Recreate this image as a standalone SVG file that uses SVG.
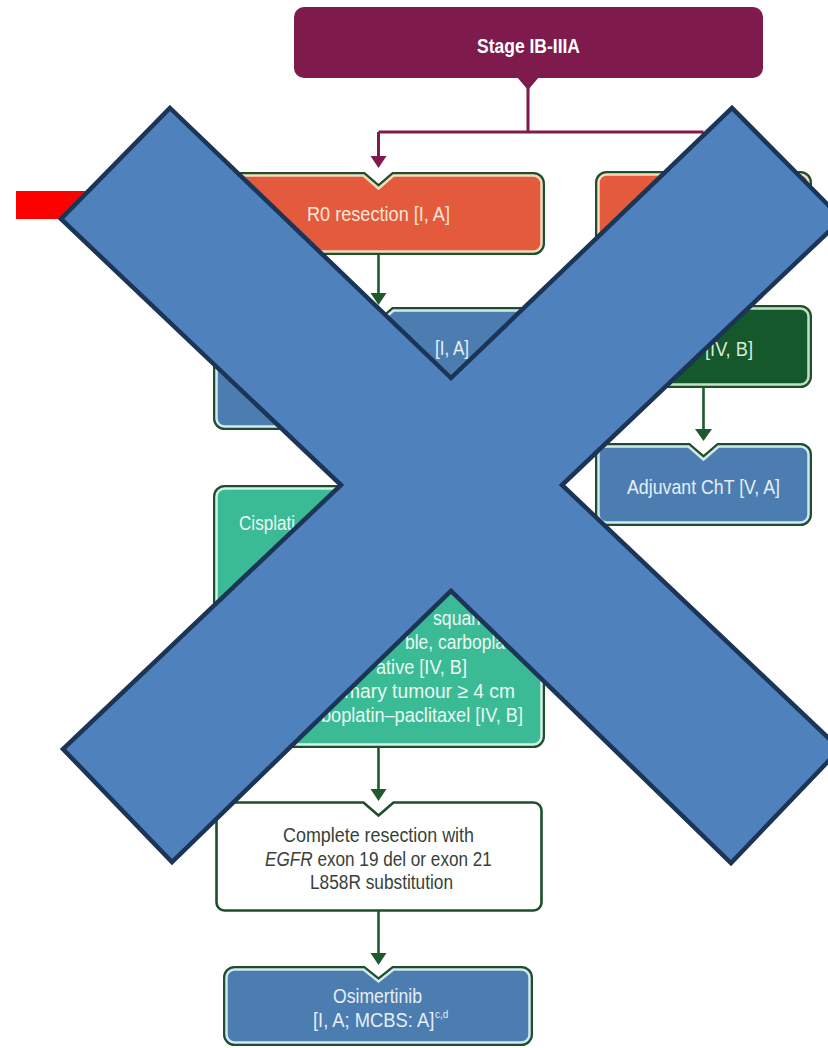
<svg xmlns="http://www.w3.org/2000/svg" width="828" height="1048" viewBox="0 0 828 1048">
<defs>
<style>
.t{font-family:"Liberation Sans Narrow","Liberation Sans",Arial,sans-serif;font-size:20.5px}
.b{font-weight:bold}
.edge{fill:none;stroke:#1E4F2C;stroke-width:7;stroke-linejoin:miter}
.orange{fill:#E35A3D;stroke:#F6DCBD;stroke-width:2.5}
.blue{fill:#4C7DB1;stroke:#D3E8F0;stroke-width:2.5}
.dgreen{fill:#15582B;stroke:#C2E2C6;stroke-width:2.5}
.teal{fill:#3ABB95;stroke:#D6F2E7;stroke-width:2.5}
.white{fill:#FFFFFF;stroke:#1E4F2C;stroke-width:2.6}
.tw{fill:#FFFFFF}
.to{fill:#FCE7D8}
.tb{fill:#E6EEF6}
.tg{fill:#D8ECDA}
.tt{fill:#ECF8F3}
.td{fill:#36423A}
.cm{fill:none;stroke:#7E1A4C;stroke-width:3}
.am{fill:#7E1A4C}
.cg{fill:none;stroke:#1E5A2E;stroke-width:2.6}
.ag{fill:#1E5A2E}
</style>
</defs>
<rect width="828" height="1048" fill="#FFFFFF"/>

<g id="connectors">
  <path class="cm" d="M528,86 V132 M378.5,132 H703.5 M378.5,132 V158 M703.5,132 V161"/>
  <polygon class="am" points="370.5,156 386.5,156 378.5,168"/>
  <polygon class="am" points="695.5,159 711.5,159 703.5,171"/>
  <path class="cg" d="M378.5,252 V295 M378.5,427 V475 M378.5,745 V791 M378.5,911 V955 M703.5,250 V295 M703.5,385 V431"/>
  <polygon class="ag" points="370.5,293 386.5,293 378.5,305"/>
  <polygon class="ag" points="370.5,473 386.5,473 378.5,485"/>
  <polygon class="ag" points="370.5,789 386.5,789 378.5,801"/>
  <polygon class="ag" points="370.5,953 386.5,953 378.5,965"/>
  <polygon class="ag" points="695.5,293 711.5,293 703.5,305"/>
  <polygon class="ag" points="695,429 712,429 703.5,441"/>
</g>

<g id="n-stage">
  <rect x="294" y="7" width="469" height="71" rx="10" fill="#7E1A4C"/>
  <polygon points="517,77 539,77 528,90" fill="#7E1A4C"/>
  <text class="t b tw" x="477" y="53" font-size="20" textLength="103" lengthAdjust="spacingAndGlyphs">Stage IB-IIIA</text>
</g>

<g id="n-r0">
  <path class="edge" d="M224.5,175.5 H363.5 L378.5,188.5 L393.5,175.5 H533.5 A8,8 0 0 1 541.5,183.5 V243.5 A8,8 0 0 1 533.5,251.5 H224.5 A8,8 0 0 1 216.5,243.5 V183.5 A8,8 0 0 1 224.5,175.5 Z"/>
  <path class="orange" d="M224.5,175.5 H363.5 L378.5,188.5 L393.5,175.5 H533.5 A8,8 0 0 1 541.5,183.5 V243.5 A8,8 0 0 1 533.5,251.5 H224.5 A8,8 0 0 1 216.5,243.5 V183.5 A8,8 0 0 1 224.5,175.5 Z"/>
  <text class="t to" x="307" y="221" textLength="143" lengthAdjust="spacingAndGlyphs">R0 resection [I, A]</text>
</g>

<g id="n-r1">
  <path class="edge" d="M606.5,174.5 H688.5 L703.5,187.5 L718.5,174.5 H800.5 A8,8 0 0 1 808.5,182.5 V241.5 A8,8 0 0 1 800.5,249.5 H606.5 A8,8 0 0 1 598.5,241.5 V182.5 A8,8 0 0 1 606.5,174.5 Z"/>
  <path class="orange" d="M606.5,174.5 H688.5 L703.5,187.5 L718.5,174.5 H800.5 A8,8 0 0 1 808.5,182.5 V241.5 A8,8 0 0 1 800.5,249.5 H606.5 A8,8 0 0 1 598.5,241.5 V182.5 A8,8 0 0 1 606.5,174.5 Z"/>
</g>

<g id="n-adjuvant-left">
  <path class="edge" d="M224.5,310.5 H363.5 L378.5,323.5 L393.5,310.5 H533.5 A8,8 0 0 1 541.5,318.5 V418.5 A8,8 0 0 1 533.5,426.5 H224.5 A8,8 0 0 1 216.5,418.5 V318.5 A8,8 0 0 1 224.5,310.5 Z"/>
  <path class="blue" d="M224.5,310.5 H363.5 L378.5,323.5 L393.5,310.5 H533.5 A8,8 0 0 1 541.5,318.5 V418.5 A8,8 0 0 1 533.5,426.5 H224.5 A8,8 0 0 1 216.5,418.5 V318.5 A8,8 0 0 1 224.5,310.5 Z"/>
  <text class="t tb" x="435" y="355" textLength="34" lengthAdjust="spacingAndGlyphs">[I, A]</text>
</g>

<g id="n-rt">
  <path class="edge" d="M606.5,308.5 H688.5 L703.5,321.5 L718.5,308.5 H800.5 A8,8 0 0 1 808.5,316.5 V376.5 A8,8 0 0 1 800.5,384.5 H606.5 A8,8 0 0 1 598.5,376.5 V316.5 A8,8 0 0 1 606.5,308.5 Z"/>
  <path class="dgreen" d="M606.5,308.5 H688.5 L703.5,321.5 L718.5,308.5 H800.5 A8,8 0 0 1 808.5,316.5 V376.5 A8,8 0 0 1 800.5,384.5 H606.5 A8,8 0 0 1 598.5,376.5 V316.5 A8,8 0 0 1 606.5,308.5 Z"/>
  <text class="t tg" x="705" y="356" textLength="48" lengthAdjust="spacingAndGlyphs">[IV, B]</text>
</g>

<g id="n-adjuvant-right">
  <path class="edge" d="M606.5,446.5 H688.5 L703.5,459.5 L718.5,446.5 H800.5 A8,8 0 0 1 808.5,454.5 V514.5 A8,8 0 0 1 800.5,522.5 H606.5 A8,8 0 0 1 598.5,514.5 V454.5 A8,8 0 0 1 606.5,446.5 Z"/>
  <path class="blue" d="M606.5,446.5 H688.5 L703.5,459.5 L718.5,446.5 H800.5 A8,8 0 0 1 808.5,454.5 V514.5 A8,8 0 0 1 800.5,522.5 H606.5 A8,8 0 0 1 598.5,514.5 V454.5 A8,8 0 0 1 606.5,446.5 Z"/>
  <text class="t tb" x="627" y="494" textLength="153" lengthAdjust="spacingAndGlyphs">Adjuvant ChT [V, A]</text>
</g>

<g id="n-cisplatin">
  <path class="edge" d="M224.5,488.5 H363.5 L378.5,501.5 L393.5,488.5 H533.5 A8,8 0 0 1 541.5,496.5 V736.5 A8,8 0 0 1 533.5,744.5 H224.5 A8,8 0 0 1 216.5,736.5 V496.5 A8,8 0 0 1 224.5,488.5 Z"/>
  <path class="teal" d="M224.5,488.5 H363.5 L378.5,501.5 L393.5,488.5 H533.5 A8,8 0 0 1 541.5,496.5 V736.5 A8,8 0 0 1 533.5,744.5 H224.5 A8,8 0 0 1 216.5,736.5 V496.5 A8,8 0 0 1 224.5,488.5 Z"/>
  <text class="t tt" x="239" y="530" textLength="56" lengthAdjust="spacingAndGlyphs">Cisplati</text>
  <text class="t tt" x="433" y="625" textLength="53" lengthAdjust="spacingAndGlyphs">squam</text>
  <text class="t tt" x="405" y="649" textLength="100" lengthAdjust="spacingAndGlyphs">ble, carbopla</text>
  <text class="t tt" x="376" y="674" textLength="91" lengthAdjust="spacingAndGlyphs">ative [IV, B]</text>
  <text class="t tt" x="344" y="698" textLength="171" lengthAdjust="spacingAndGlyphs">mary tumour ≥ 4 cm</text>
  <text class="t tt" x="321" y="722" textLength="202" lengthAdjust="spacingAndGlyphs">boplatin–paclitaxel [IV, B]</text>
</g>

<g id="n-egfr">
  <path class="white" d="M224.5,802.5 H363.5 L378.5,815.5 L393.5,802.5 H533.5 A8,8 0 0 1 541.5,810.5 V902.5 A8,8 0 0 1 533.5,910.5 H224.5 A8,8 0 0 1 216.5,902.5 V810.5 A8,8 0 0 1 224.5,802.5 Z"/>
  <text class="t td" x="283" y="842" textLength="191" lengthAdjust="spacingAndGlyphs">Complete resection with</text>
  <text class="t td" transform="translate(265,866) scale(0.837,1)"><tspan font-style="italic">EGFR</tspan> exon 19 del or exon 21</text>
  <text class="t td" x="310" y="889" textLength="143" lengthAdjust="spacingAndGlyphs">L858R substitution</text>
</g>

<g id="n-osimertinib">
  <path class="edge" d="M234.5,969.5 H363.5 L378.5,981.5 L393.5,969.5 H521.5 A8,8 0 0 1 529.5,977.5 V1034.5 A8,8 0 0 1 521.5,1042.5 H234.5 A8,8 0 0 1 226.5,1034.5 V977.5 A8,8 0 0 1 234.5,969.5 Z"/>
  <path class="blue" d="M234.5,969.5 H363.5 L378.5,981.5 L393.5,969.5 H521.5 A8,8 0 0 1 529.5,977.5 V1034.5 A8,8 0 0 1 521.5,1042.5 H234.5 A8,8 0 0 1 226.5,1034.5 V977.5 A8,8 0 0 1 234.5,969.5 Z"/>
  <text class="t tb" x="333" y="1003" textLength="89" lengthAdjust="spacingAndGlyphs">Osimertinib</text>
  <text class="t tb" transform="translate(313,1027) scale(0.895,1)">[I, A; MCBS: A]<tspan font-size="11" dx="1" dy="-9">c,d</tspan></text>
</g>

<g id="red-bar">
  <rect x="16" y="191" width="190" height="28" fill="#FF0000"/>
</g>

<g id="cross">
  <polygon points="170,108 451,378 732,108 842,219 562,485 840,749 731,863 451,591 172,862 63,749 341,485 61,219" fill="#4F81BD" stroke="#1C3556" stroke-width="4.5" stroke-linejoin="miter"/>
</g>
</svg>
